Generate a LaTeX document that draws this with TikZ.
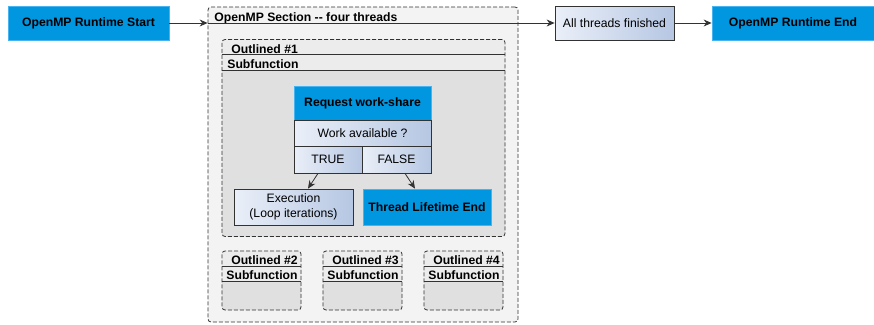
\documentclass[tikz,border=0pt]{standalone}
\usepackage{fontspec}
\setmainfont{Liberation Sans}
\usepackage{tikz}
\usetikzlibrary{arrows.meta}
\definecolor{box_blue}{RGB}{0,150,224}
\definecolor{edge_blue}{RGB}{70,180,240}
\definecolor{grad_left}{RGB}{234,239,248}
\definecolor{grad_right}{RGB}{182,199,227}
\definecolor{sec_gray}{RGB}{243,243,243}
\definecolor{sub_gray}{RGB}{224,224,224}
\definecolor{hdr_gray}{RGB}{236,236,236}
\definecolor{edge_gray}{RGB}{50,50,50}

\begin{document}
\begin{tikzpicture}[x=1pt,y=-1pt,->,>={Stealth[length=8pt,width=7pt]},line width=0.8pt,draw=edge_gray,font=\fontsize{12.2}{14.5}\selectfont]
    \tikzstyle{box}=[draw=edge_gray, line width=0.8pt, inner sep=0pt, align=center, text=black]
    \tikzstyle{bluebox}=[style=box, fill=box_blue, draw=edge_blue, font=\fontsize{12.2}{14.5}\selectfont\bfseries]
    \tikzstyle{gradbox}=[style=box, left color=grad_left, right color=grad_right]
    \tikzstyle{group}=[draw=edge_gray, line width=0.8pt, dash pattern=on 4pt off 2pt, rounded corners=3pt, inner sep=0pt]
    \tikzstyle{outlined}=[style=group, fill=sub_gray,
      path picture={\fill[hdr_gray] (path picture bounding box.north west) rectangle ([yshift=-31pt]path picture bounding box.north east);}]
    \tikzstyle{title}=[inner sep=0pt, font=\fontsize{12.2}{14.5}\selectfont\bfseries]
    \tikzstyle{rule}=[-, draw=edge_gray, line width=0.8pt]

    \useasboundingbox (0,0) rectangle (874,324);

    % runtime start / end
    \node[bluebox, minimum width=161pt, minimum height=34pt] (start) at (88.5,23) {OpenMP Runtime Start};
    \node[gradbox, minimum width=119pt, minimum height=34pt] (done) at (614.5,23) {All threads finished};
    \node[bluebox, minimum width=162pt, minimum height=34pt] (stop) at (793,23) {OpenMP Runtime End};

    % parallel section
    \node[group, fill=sec_gray, minimum width=310pt, minimum height=315pt] (sec) at (363,164.5) {};
    \node[title, anchor=base west] (sectitle) at (214,21) {OpenMP Section {-}{-} four threads};
    \draw[rule] ([yshift=-16.5pt]sec.north west) -- ([yshift=-16.5pt]sec.north east);

    % first thread, expanded
    \node[outlined, minimum width=283pt, minimum height=197pt] (out1) at (363.5,138) {};
    \node[title, anchor=base west] (name1) at (231,53) {Outlined \#1};
    \node[title, anchor=base west] (sub1) at (227,68) {Subfunction};
    \draw[rule] ([yshift=-15.5pt]out1.north west) -- ([yshift=-15.5pt]out1.north east);
    \draw[rule] ([yshift=-31.5pt]out1.north west) -- ([yshift=-31.5pt]out1.north east);

    \node[bluebox, minimum width=137pt, minimum height=34pt] (req) at (362.5,103) {Request work-share};
    \node[gradbox, minimum width=137pt, minimum height=26pt] (avail) at (362.5,133) {Work available ?};
    \node[gradbox, minimum width=68pt, minimum height=27pt] (yes) at (328,159.5) {TRUE};
    \node[gradbox, minimum width=69pt, minimum height=27pt] (no) at (396.5,159.5) {FALSE};
    \node[gradbox, minimum width=119pt, minimum height=36pt] (exec) at (293.5,207) {Execution\\(Loop iterations)};
    \node[bluebox, minimum width=128pt, minimum height=36pt] (tle) at (427,207) {Thread Lifetime End};

    % other threads, collapsed
    \foreach \n/\cx in {2/261.5, 3/362.5, 4/463.5} {
      \node[outlined, minimum width=79pt, minimum height=59pt] (out\n) at (\cx,280.5) {};
      \node[title, anchor=base] (name\n) at (\cx+3,264.5) {Outlined \#\n};
      \node[title, anchor=base] (sub\n) at (\cx+0.5,279.5) {Subfunction};
      \draw[rule] ([yshift=-16pt]out\n.north west) -- ([yshift=-16pt]out\n.north east);
      \draw[rule] ([yshift=-31pt]out\n.north west) -- ([yshift=-31pt]out\n.north east);
    }

    \path
     (start) edge (sec.west |- start)
     (sec.east |- done) edge (done)
     (done) edge (stop)
     ([xshift=-10pt]yes.south) edge ([xshift=14.5pt]exec.north)
     ([xshift=8.5pt]no.south) edge ([xshift=-12pt]tle.north)
     ;
\end{tikzpicture}
\end{document}
